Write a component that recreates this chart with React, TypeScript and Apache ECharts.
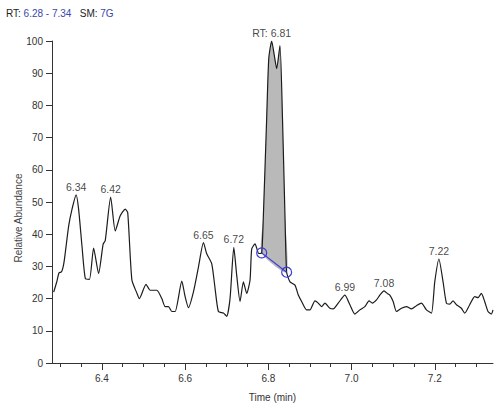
import React, { useEffect, useRef } from "react";
import * as echarts from "echarts";

const times = [
  6.284, 6.291, 6.297, 6.303, 6.309, 6.32, 6.328, 6.338, 6.344, 6.352, 6.36, 6.37, 6.38, 6.392,
  6.403, 6.408, 6.421, 6.432, 6.444, 6.456, 6.462, 6.472, 6.484, 6.49, 6.506, 6.516, 6.532,
  6.544, 6.552, 6.56, 6.568, 6.576, 6.592, 6.6, 6.608, 6.62, 6.632, 6.644, 6.652, 6.664, 6.672,
  6.68, 6.692, 6.7, 6.708, 6.717, 6.724, 6.732, 6.74, 6.748, 6.756, 6.76, 6.768, 6.777, 6.784,
  6.788, 6.796, 6.801, 6.808, 6.815, 6.82, 6.828, 6.834, 6.84, 6.844, 6.852, 6.864, 6.872, 6.88,
  6.892, 6.9, 6.912, 6.92, 6.928, 6.936, 6.948, 6.956, 6.968, 6.984, 6.996, 7.008, 7.02, 7.032,
  7.042, 7.05, 7.06, 7.068, 7.078, 7.086, 7.092, 7.1, 7.108, 7.12, 7.132, 7.144, 7.156, 7.168,
  7.18, 7.192, 7.2, 7.21, 7.22, 7.228, 7.236, 7.244, 7.252, 7.264, 7.272, 7.284, 7.296, 7.304,
  7.312, 7.32, 7.328, 7.336, 7.34,
];
const abundance = [
  22, 25, 28, 28.3, 31.4, 42.5, 47.7, 52.2, 47.7, 36.4, 26.3, 26, 35.7, 27.8,
  37, 38, 51.5, 41, 45.7, 47.8, 46.7, 25.8, 21.7, 20, 24.4, 22.6, 22.6,
  20, 17.5, 17.5, 16, 16, 25.4, 20.6, 17.2, 22.1, 29.8, 37.4, 33.9, 30.8, 23.1,
  16, 15.5, 14.5, 20.1, 35.9, 27.2, 19.1, 25.2, 21.6, 25.7, 35.4, 37, 34, 34.2,
  45.6, 76, 94.5, 100, 95, 91.4, 98.6, 76, 45.6, 28.2, 25.2, 24.2, 21.1, 19.1,
  16.5, 16.5, 19.3, 18.6, 17.5, 18.6, 17, 16.8, 18.6, 21.1, 18.1, 15.2, 16.5, 17.5,
  19.3, 18.6, 19.6, 21.1, 22.4, 21.6, 21.1, 19.1, 16, 17, 17.5, 16.8, 17.8, 18.6,
  16.5, 15.5, 25.2, 32.3, 25.2, 18.6, 18.3, 19.3, 18.1, 17, 15.5, 18.1, 20.6, 20.3,
  21.6, 19.1, 16, 15.2, 16.5,
];

const peakLabelTimes = [6.338, 6.421, 6.644, 6.717, 6.808, 6.984, 7.078, 7.21];
const peakLabelValues = [52.2, 51.5, 37.4, 35.9, 100, 21.1, 22.4, 32.3];
const peakLabelTexts = ["6.34", "6.42", "6.65", "6.72", "RT: 6.81", "6.99", "7.08", "7.22"];

const baselineTimes = [6.784, 6.844];
const baselineValues = [34.2, 28.2];

const xLabelValues = [6.4, 6.6, 6.8, 7.0, 7.2];
const xMinorTicks = [
  6.3, 6.35, 6.4, 6.45, 6.5, 6.55, 6.6, 6.65, 6.7, 6.75, 6.8, 6.85, 6.9, 6.95, 7.0, 7.05, 7.1,
  7.15, 7.2, 7.25, 7.3,
];
const xMin = 6.28;
const xMax = 7.34;

const FONT = "'Liberation Sans', Arial, sans-serif";
const BLUE = "#3a3ad8";
const AXIS = "#333333";
const SMOOTH = 0.2;

export default function App() {
  const ref = useRef<HTMLDivElement>(null);

  useEffect(() => {
    if (!ref.current) return;
    const chart = echarts.init(ref.current, null, { renderer: "svg" });
    const lineData = times.map((t, i) => [t, abundance[i]]);

    const option: any = {
      animation: false,
      backgroundColor: "#ffffff",
      grid: { left: 52, right: 1, top: 41, bottom: 38, containLabel: false },
      xAxis: [
        {
          type: "value",
          min: xMin,
          max: xMax,
          name: "Time (min)",
          nameLocation: "middle",
          nameGap: 29,
          nameTextStyle: { color: AXIS, fontSize: 10, fontFamily: FONT },
          axisLine: { show: true, lineStyle: { color: AXIS, width: 1 } },
          axisTick: { show: true, length: 4, customValues: xMinorTicks, lineStyle: { color: AXIS } },
          axisLabel: {
            show: true,
            customValues: xLabelValues,
            margin: 10,
            color: AXIS,
            fontSize: 10,
            fontFamily: FONT,
            formatter: (v: number) => v.toFixed(1),
          },
          splitLine: { show: false },
        },
        {
          type: "value",
          min: xMin,
          max: xMax,
          position: "bottom",
          axisLine: { show: false },
          axisTick: { show: true, length: 7, customValues: xLabelValues, lineStyle: { color: AXIS } },
          axisLabel: { show: false },
          splitLine: { show: false },
        },
      ],
      yAxis: {
        type: "value",
        min: 0,
        max: 100,
        interval: 10,
        axisLine: { show: true, lineStyle: { color: AXIS, width: 1 } },
        axisTick: { show: true, length: 6, lineStyle: { color: AXIS } },
        axisLabel: { margin: 9, color: AXIS, fontSize: 10, fontFamily: FONT },
        splitLine: { show: false },
      },
      graphic: [
        {
          type: "text",
          left: 6,
          top: 8,
          style: {
            text: "{k|RT: }{b|6.28 - 7.34}{k|   SM: }{b|7G}",
            rich: {
              k: { fill: "#222222", fontSize: 10, fontFamily: FONT },
              b: { fill: "#3848a8", fontSize: 10, fontFamily: FONT },
            },
          },
        },
        {
          type: "text",
          x: 18,
          y: 218,
          rotation: Math.PI / 2,
          style: {
            text: "Relative Abundance",
            fill: "#444444",
            fontSize: 10,
            fontFamily: FONT,
            align: "center",
            verticalAlign: "middle",
          },
        },
      ],
      series: [
        {
          type: "custom",
          coordinateSystem: "cartesian2d",
          xAxisIndex: 0,
          data: [[baselineTimes[0], baselineValues[0]]],
          silent: true,
          z: 1,
          renderItem: (params: any, api: any) => {
            const pts: number[][] = [];
            for (let i = 0; i < times.length; i++) {
              if (times[i] >= baselineTimes[0] && times[i] <= baselineTimes[1]) {
                pts.push(api.coord([times[i], abundance[i]]));
              }
            }
            return {
              type: "polygon",
              shape: { points: pts, smooth: SMOOTH },
              style: { fill: "#b9b9b9", stroke: "none" },
            };
          },
        },
        {
          type: "line",
          xAxisIndex: 0,
          data: lineData,
          showSymbol: false,
          symbol: "none",
          smooth: SMOOTH,
          lineStyle: { color: "#1c1c1c", width: 1.2 },
          z: 3,
          silent: true,
        },
        {
          type: "line",
          xAxisIndex: 0,
          data: baselineTimes.map((t, i) => [t, baselineValues[i]]),
          symbol: "circle",
          symbolSize: 10,
          showSymbol: true,
          itemStyle: { color: "rgba(0,0,0,0)", borderColor: BLUE, borderWidth: 1.2 },
          lineStyle: { color: BLUE, width: 1.2 },
          z: 4,
          silent: true,
        },
        {
          type: "scatter",
          xAxisIndex: 0,
          data: peakLabelTimes.map((t, i) => [t, peakLabelValues[i], peakLabelTexts[i]]),
          symbolSize: 1,
          itemStyle: { color: "rgba(0,0,0,0)" },
          label: {
            show: true,
            position: "top",
            distance: 2,
            formatter: (p: any) => p.data[2],
            color: "#111111",
            fontSize: 10.5,
            fontFamily: FONT,
          },
          z: 5,
          silent: true,
        },
      ],
    };

    chart.setOption(option);
    return () => chart.dispose();
  }, []);

  return (
    <div
      ref={ref}
      style={{ position: "absolute", left: 0, top: 0, width: 494, height: 407 }}
    />
  );
}
